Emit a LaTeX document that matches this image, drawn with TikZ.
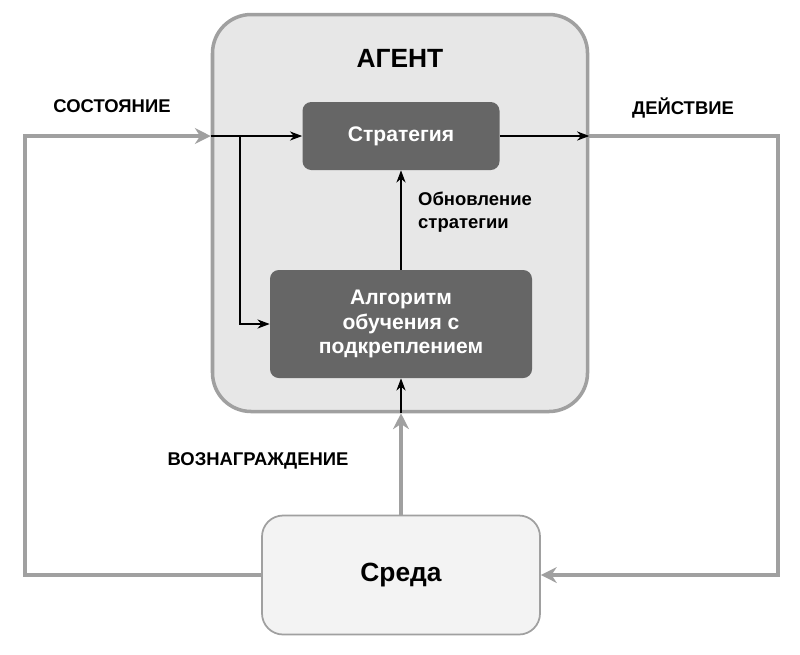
\documentclass[tikz,border=0pt]{standalone}
\usepackage{fontspec}
\setmainfont{Liberation Sans}
\usetikzlibrary{positioning,arrows.meta}
\definecolor{box-dark}{RGB}{102, 102, 102}
\definecolor{box-light}{RGB}{231, 231, 231}
\definecolor{edge-gray}{RGB}{160, 160, 160}
\tikzset{
  dark box/.style={draw=none, fill=box-dark, rounded corners=5pt, text=white,
    font=\bfseries\fontsize{12}{14}\selectfont, align=center},
  label/.style={font=\bfseries\fontsize{10.5}{13}\selectfont},
  inner arrow/.style={-{Stealth[length=7pt]}, line width=0.6pt, black},
  outer arrow/.style={-{Stealth[length=9pt,width=9pt]}, line width=2pt, edge-gray}
}

\begin{document}
\begin{tikzpicture}[x=0.02cm, y=-0.02cm]
\useasboundingbox (0,0) rectangle (800,654);

\node[draw=edge-gray, line width=2pt, fill=box-light, rounded corners=22pt,
  minimum width=375*0.02cm, minimum height=397*0.02cm] (agent) at (400,213) {};
\node[font=\bfseries\fontsize{15}{18}\selectfont] (agent-title) at (400,58) {АГЕНТ};

\node[dark box, minimum width=197*0.02cm, minimum height=68*0.02cm] (policy) at (401,136) {Стратегия};
\node[dark box, minimum width=262*0.02cm, minimum height=108*0.02cm] (algo) at (401,324)
  {Алгоритм\\обучения с\\подкреплением};
\node[draw=edge-gray, line width=1pt, fill=box-light!50, rounded corners=12pt,
  minimum width=278*0.02cm, minimum height=119*0.02cm,
  font=\bfseries\fontsize{15}{18}\selectfont] (env) at (401,575) {Среда};

\node[label, align=left, anchor=west] (update) at (412,212) {Обновление\\стратегии};
\node[label] (state) at (112,106) {СОСТОЯНИЕ};
\node[label] (action) at (683,108) {ДЕЙСТВИЕ};
\node[label] (reward) at (258,461) {ВОЗНАГРАЖДЕНИЕ};

\coordinate (in) at (agent.west |- policy.west);
\coordinate (out) at (agent.east |- policy.east);
\coordinate (split) at (240,136);
\coordinate (bottom) at (agent.south -| algo.south);

% outer loop
\draw[outer arrow] (env.west) -- (25,575) -- (25,136) -- (in);
\draw[outer arrow] (out) -- (778,136) -- (778,575) -- (env.east);
\draw[outer arrow] (env.north -| bottom) -- (bottom);

% inside the agent
\draw[inner arrow] (in) -- (policy.west);
\draw[inner arrow] (split) |- (algo.west);
\draw[inner arrow] (policy.east) -- (out);
\draw[inner arrow] (algo.north) -- (policy.south);
\draw[inner arrow] (bottom) -- (algo.south);
\end{tikzpicture}
\end{document}
